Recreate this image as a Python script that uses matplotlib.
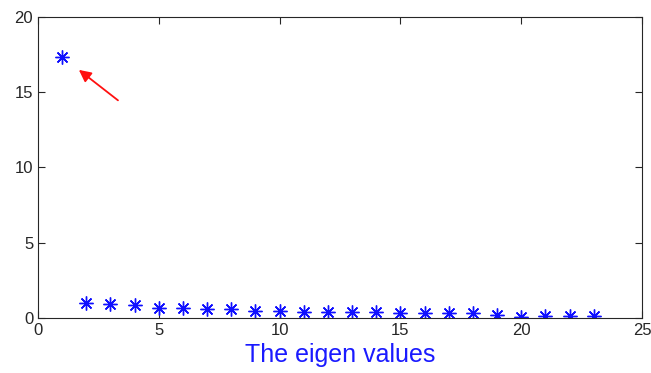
import matplotlib
matplotlib.use('Agg')
import matplotlib.pyplot as plt

plt.rcParams['font.family'] = ['Liberation Sans', 'DejaVu Sans']

idx = list(range(1, 24))
eig = [17.35, 1.02, 0.93, 0.84, 0.65, 0.65, 0.58, 0.57, 0.47, 0.46, 0.43, 0.42,
       0.42, 0.40, 0.35, 0.36, 0.30, 0.31, 0.20, 0.06, 0.12, 0.12, 0.10]

fig = plt.figure(figsize=(6.51, 3.73), dpi=100)
ax = fig.add_axes([0.0584, 0.1475, 0.9278, 0.8069])

ax.plot(idx, eig, linestyle='none', marker=(8, 2, 0), color='#1010ff',
        markersize=10, markeredgewidth=1.0)

ax.annotate('', xy=(1.6, 16.6), xytext=(3.4, 14.35),
            arrowprops=dict(arrowstyle='-|>', color='#ff1010', lw=1.3,
                            mutation_scale=18))

ax.set_xlim(0, 25)
ax.set_ylim(0, 20)
ax.set_xticks([0, 5, 10, 15, 20, 25])
ax.set_yticks([0, 5, 10, 15, 20])
ax.tick_params(direction='in', top=True, right=True, labelsize=12,
               colors='#262626', length=5)
for s in ax.spines.values():
    s.set_color('#262626')
    s.set_linewidth(0.8)

ax.set_xlabel('The eigen values', color='#1a1aff', fontsize=18, labelpad=4)

fig.savefig('out.png', dpi=100)
